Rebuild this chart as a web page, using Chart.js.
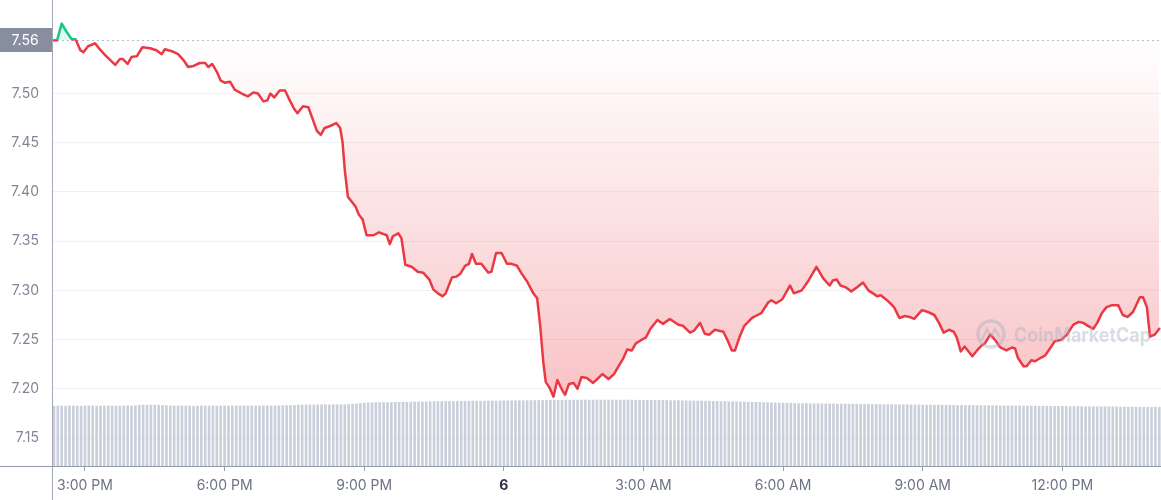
<!DOCTYPE html>
<html><head><meta charset="utf-8">
<script src="https://cdn.jsdelivr.net/npm/chart.js@4.4.1/dist/chart.umd.min.js"></script>
<style>html,body{margin:0;padding:0;background:#fff;}#wrap{width:1161px;height:500px;position:relative;}</style>
</head><body><div id="wrap"><canvas id="c"></canvas></div>
<script>
// ---- data (times are minutes since 00:00 of the first day) ----
const OPEN_PRICE = 7.554;
const OPEN_LABEL = '7.56';
const priceTimes = [
859,864,870,876,883,888,894,898,904,913,
919,926,939,945,949,955,960,967,974,984,
992,999,1003,1012,1020,1027,1033,1040,1048,1055,
1059,1064,1070,1075,1080,1087,1093,1102,1110,1117,
1123,1130,1135,1139,1144,1151,1158,1164,1170,1174,
1181,1188,1194,1199,1204,1209,1216,1224,1229,1232,
1235,1239,1244,1249,1253,1258,1263,1272,1279,1289,
1293,1297,1304,1308,1313,1321,1329,1336,1344,1349,
1355,1361,1365,1373,1379,1384,1390,1395,1399,1404,
1411,1420,1424,1430,1437,1444,1450,1457,1463,1470,
1478,1483,1487,1491,1494,1499,1504,1509,1515,1519,
1524,1530,1535,1540,1547,1555,1562,1567,1575,1582,
1588,1594,1599,1605,1610,1618,1623,1629,1638,1645,
1654,1665,1671,1680,1685,1693,1699,1705,1712,1723,
1728,1734,1738,1744,1750,1760,1767,1772,1781,1785,
1791,1799,1809,1814,1824,1832,1843,1852,1860,1864,
1869,1874,1881,1888,1895,1903,1910,1916,1921,1926,
1934,1943,1950,1957,1963,1969,1979,1987,1995,2001,
2007,2014,2020,2024,2029,2034,2044,2050,2056,2060,
2067,2073,2080,2088,2095,2099,2103,2110,2114,2120,
2125,2131,2138,2144,2150,2159,2166,2174,2181,2187,
2193,2200,2205,2211,2217,2224,2232,2238,2244,2251,
2260,2264,2269,2273,2279,2285];
const prices = [
7.554,7.554,7.571,7.563,7.555,7.555,7.544,7.542,7.548,7.551,
7.545,7.539,7.529,7.535,7.535,7.530,7.537,7.538,7.547,7.546,
7.544,7.540,7.545,7.543,7.540,7.534,7.527,7.528,7.531,7.531,
7.527,7.530,7.522,7.513,7.511,7.512,7.504,7.500,7.497,7.501,
7.500,7.492,7.493,7.500,7.496,7.503,7.503,7.493,7.484,7.480,
7.487,7.486,7.473,7.462,7.458,7.465,7.467,7.470,7.465,7.451,
7.422,7.395,7.390,7.385,7.377,7.372,7.356,7.356,7.359,7.356,
7.347,7.355,7.358,7.353,7.326,7.324,7.319,7.318,7.311,7.301,
7.297,7.294,7.297,7.313,7.314,7.317,7.325,7.327,7.337,7.327,
7.327,7.318,7.319,7.338,7.338,7.327,7.327,7.325,7.317,7.309,
7.297,7.292,7.263,7.226,7.207,7.201,7.192,7.209,7.199,7.194,
7.205,7.206,7.200,7.212,7.211,7.206,7.211,7.215,7.210,7.215,
7.223,7.231,7.240,7.239,7.246,7.250,7.252,7.261,7.270,7.266,
7.271,7.265,7.264,7.257,7.259,7.267,7.256,7.255,7.260,7.258,
7.250,7.239,7.239,7.253,7.264,7.272,7.275,7.277,7.288,7.290,
7.287,7.291,7.305,7.297,7.300,7.309,7.324,7.312,7.305,7.310,
7.311,7.305,7.303,7.299,7.303,7.308,7.300,7.297,7.294,7.295,
7.290,7.283,7.272,7.274,7.273,7.271,7.280,7.278,7.275,7.267,
7.257,7.260,7.258,7.252,7.238,7.243,7.233,7.239,7.244,7.246,
7.255,7.250,7.242,7.239,7.242,7.241,7.231,7.223,7.223,7.229,
7.228,7.231,7.234,7.241,7.248,7.250,7.255,7.265,7.268,7.267,
7.264,7.261,7.267,7.277,7.283,7.285,7.285,7.275,7.273,7.278,
7.293,7.293,7.283,7.253,7.255,7.261];
const volumeStart = 860;   // first volume bar time (minutes)
const volumeStep = 5;      // minutes between volume bars
const volumes = [ // 24h volume, millions
385,386,386,385,387,386,386,385,386,387,
386,385,386,386,387,386,385,386,386,387,
387,388,391,392,392,393,392,392,391,389,
387,386,386,387,386,386,385,386,387,386,
386,387,386,385,386,386,387,386,386,387,
387,386,386,387,388,387,386,387,388,388,
389,390,391,392,393,393,394,393,393,394,
394,393,394,395,394,395,396,398,400,403,
405,406,407,408,408,409,408,409,410,410,
411,410,411,412,412,413,413,414,414,415,
415,415,416,416,417,416,417,417,418,418,
417,418,418,419,418,419,420,419,420,420,
421,420,421,421,422,422,422,423,423,424,
423,424,424,424,425,424,425,425,424,425,
425,424,425,425,424,425,424,424,425,424,
424,423,424,423,423,422,423,422,422,421,
421,421,420,420,419,419,418,418,417,417,
416,416,415,415,414,414,413,412,412,411,
410,410,409,408,408,407,406,405,405,404,
403,403,402,402,402,401,401,401,400,400,
400,400,399,399,399,398,398,398,397,397,
397,396,396,396,395,395,395,394,394,394,
394,393,393,393,393,392,392,392,392,391,
391,391,391,390,390,390,390,389,389,389,
389,388,388,388,388,387,387,387,387,386,
386,386,386,385,385,385,385,384,384,384,
384,383,383,383,383,382,382,382,382,381,
381,381,381,381,380,380,380,380,380,379,
379,379,379,379,379,378];
const xTickTimes = [900,1080,1260,1440,1620,1800,1980,2160];
const xTickLabels = ['3:00 PM','6:00 PM','9:00 PM','6','3:00 AM','6:00 AM','9:00 AM','12:00 PM'];
const yTickValues = [7.15,7.20,7.25,7.30,7.35,7.40,7.45,7.50];
const xRange = [857.5, 2287.2];
const yRange = [7.1216, 7.595];

// ---- styling ----
const RED = '#ea3943', GREEN = '#16c784';
Chart.defaults.font.family = 'Inter, "Open Sans", sans-serif';

function splitGradient(chart, topColor, botColor) {
  const {ctx, chartArea: a, scales: {y}} = chart;
  const yb = y.getPixelForValue(OPEN_PRICE);
  const s = Math.min(1, Math.max(0, (yb - a.top) / (a.bottom - a.top)));
  const g = ctx.createLinearGradient(0, a.top, 0, a.bottom);
  g.addColorStop(0, topColor); g.addColorStop(s, topColor);
  g.addColorStop(s, botColor); g.addColorStop(1, botColor);
  return g;
}

const decor = {
  id: 'decor',
  beforeDatasetsDraw(chart) {
    const {ctx, chartArea: a, scales: {y}} = chart;
    const yb = Math.round(y.getPixelForValue(OPEN_PRICE)) + 0.5;
    ctx.save();
    ctx.strokeStyle = '#b9bfca'; ctx.lineWidth = 1; ctx.setLineDash([2, 3]);
    ctx.beginPath(); ctx.moveTo(a.left, yb); ctx.lineTo(a.right, yb); ctx.stroke();
    ctx.restore();
  },
  afterDatasetsDraw(chart) {
    const {ctx} = chart;
    ctx.save();
    const col = 'rgba(165,175,195,0.42)';
    ctx.strokeStyle = col; ctx.lineWidth = 3.5;
    ctx.beginPath(); ctx.arc(991, 334, 13, 0, Math.PI * 2); ctx.stroke();
    ctx.lineWidth = 2.5;
    ctx.beginPath(); ctx.moveTo(982, 340); ctx.lineTo(987, 329); ctx.lineTo(991, 337); ctx.lineTo(995, 329); ctx.lineTo(1000, 338); ctx.stroke();
    ctx.fillStyle = col; ctx.font = 'bold 20px Inter, "Open Sans", sans-serif';
    ctx.textBaseline = 'alphabetic'; ctx.textAlign = 'left';
    const w = ctx.measureText('CoinMarketCap').width;
    const sx = Math.min(1, 137 / w);
    ctx.translate(1014, 342); ctx.scale(sx, 1);
    ctx.fillText('CoinMarketCap', 0, 0);
    ctx.restore();
  },
  afterDraw(chart) {
    const {ctx, chartArea: a, scales: {y}, width, height} = chart;
    ctx.save();
    ctx.strokeStyle = '#a3a9b4'; ctx.lineWidth = 1;
    ctx.beginPath(); ctx.moveTo(a.left + 0.5, 0); ctx.lineTo(a.left + 0.5, height); ctx.stroke();
    ctx.strokeStyle = '#959ba6';
    ctx.beginPath(); ctx.moveTo(0, a.bottom + 0.5); ctx.lineTo(width, a.bottom + 0.5); ctx.stroke();
    const yb = y.getPixelForValue(OPEN_PRICE);
    ctx.fillStyle = '#878ea0';
    ctx.fillRect(0, Math.round(yb) - 12, a.left, 24);
    ctx.fillStyle = '#ffffff'; ctx.font = '14px Inter, "Open Sans", sans-serif';
    ctx.textAlign = 'center'; ctx.textBaseline = 'middle';
    ctx.fillText(OPEN_LABEL, a.left / 2 - 1, Math.round(yb) + 1);
    ctx.restore();
  }
};

new Chart(document.getElementById('c'), {
  type: 'line',
  data: {
    datasets: [
      {
        type: 'line',
        data: priceTimes.map((t, i) => ({x: t, y: prices[i]})),
        yAxisID: 'y',
        borderWidth: 2.5,
        borderJoinStyle: 'round',
        borderCapStyle: 'round',
        pointRadius: 0,
        tension: 0,
        borderColor: (c) => c.chart.chartArea ? splitGradient(c.chart, GREEN, RED) : RED,
        backgroundColor: (c) => {
          const ch = c.chart; if (!ch.chartArea) return 'rgba(234,57,67,0.2)';
          const a = ch.chartArea; const yb = ch.scales.y.getPixelForValue(OPEN_PRICE);
          const g = ch.ctx.createLinearGradient(0, yb, 0, a.bottom);
          g.addColorStop(0, 'rgba(234,57,67,0.0)');
          g.addColorStop(1, 'rgba(234,57,67,0.36)');
          return g;
        },
        fill: {target: {value: OPEN_PRICE}, above: 'rgba(22,199,132,0.12)'},
        order: 0
      },
      {
        type: 'bar',
        data: volumes.map((v, i) => ({x: volumeStart + i * volumeStep, y: v})),
        yAxisID: 'yv',
        backgroundColor: '#c9cfdb',
        barThickness: 2,
        order: 1
      }
    ]
  },
  options: {
    responsive: true, maintainAspectRatio: false, animation: false, devicePixelRatio: 1,
    layout: {padding: 0},
    plugins: {legend: {display: false}, tooltip: {enabled: false}},
    scales: {
      x: {
        type: 'linear', min: xRange[0], max: xRange[1], offset: false,
        border: {display: false},
        grid: {drawOnChartArea: false, drawTicks: true, tickLength: 5, color: '#9aa0ab', offset: false},
        afterBuildTicks: (s) => { s.ticks = xTickTimes.map(v => ({value: v})); },
        afterFit: (s) => { s.height = 34; s.paddingLeft = 0; s.paddingRight = 0; },
        ticks: {
          autoSkip: false, maxRotation: 0, padding: 6,
          callback: (v) => { const i = xTickTimes.indexOf(v); return i >= 0 ? xTickLabels[i] : ''; },
          font: (c) => ({size: 14, weight: c.tick && c.tick.value === 1440 ? 'bold' : 'normal'}),
          color: (c) => c.tick && c.tick.value === 1440 ? '#2f3542' : '#6b7283'
        }
      },
      y: {
        type: 'linear', position: 'left', min: yRange[0], max: yRange[1],
        border: {display: false},
        grid: {color: '#eff1f4', drawTicks: false},
        afterBuildTicks: (s) => { s.ticks = yTickValues.map(v => ({value: v})); },
        afterFit: (s) => { s.width = 52; s.paddingTop = 0; s.paddingBottom = 0; },
        ticks: {padding: 13, font: {size: 14}, color: '#7f8696', callback: (v) => Number(v).toFixed(2)}
      },
      yv: {
        type: 'linear', display: false, min: 0, max: 3000
      }
    }
  },
  plugins: [decor]
});
</script>
</body></html>
